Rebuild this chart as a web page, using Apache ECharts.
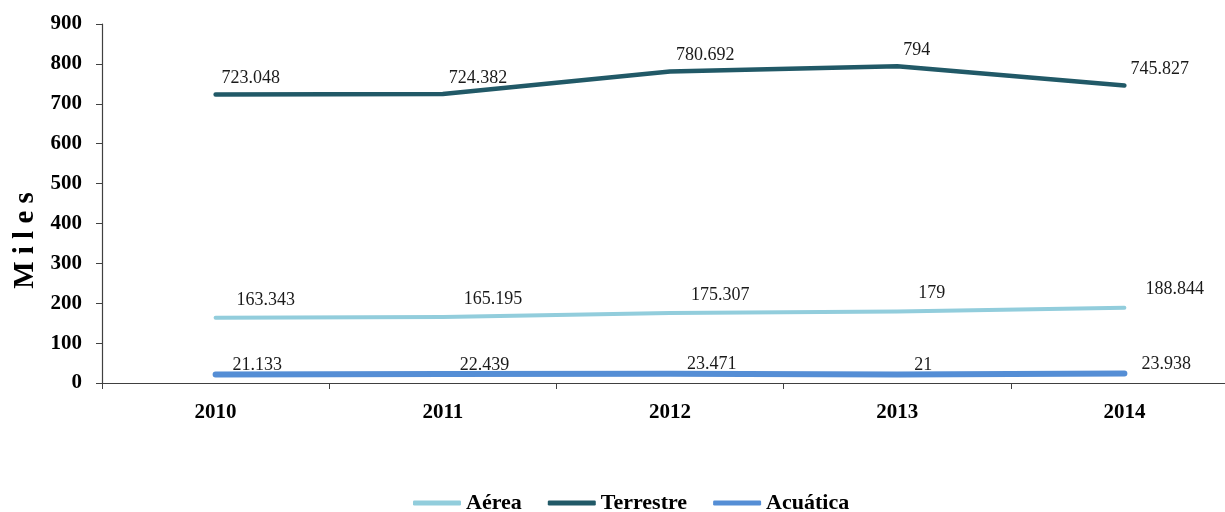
<!DOCTYPE html>
<html>
<head>
<meta charset="utf-8">
<script src="https://cdn.jsdelivr.net/npm/echarts@6/dist/echarts.min.js"></script>
<style>
html,body{margin:0;padding:0;background:#fff;}
#chart{width:1225px;height:512px;}
</style>
</head>
<body>
<div id="chart"></div>
<script>
const years = ['2010', '2011', '2012', '2013', '2014'];
const aerea = [163.343, 165.195, 175.307, 179, 188.844];
const terrestre = [723.048, 724.382, 780.692, 794, 745.827];
const acuatica = [21.133, 22.439, 23.471, 21, 23.938];
const seriesNames = ['Aérea', 'Terrestre', 'Acuática'];
const yAxisName = 'M i l e s';

const serif = '"Liberation Serif", "Times New Roman", serif';
const chart = echarts.init(document.getElementById('chart'));

function lineSeries(name, data, color, width, offset) {
  return {
    name: name,
    type: 'line',
    data: data,
    symbol: 'circle',
    symbolSize: 0,
    showSymbol: true,
    lineStyle: { color: color, width: width, cap: 'round', join: 'round' },
    itemStyle: { color: color },
    label: {
      show: true,
      position: 'top',
      align: 'left',
      distance: 5,
      offset: offset,
      fontFamily: serif,
      fontSize: 18,
      color: '#1a1a1a'
    },
    emphasis: { disabled: true },
    animation: false
  };
}

chart.setOption({
  animation: false,
  grid: { left: 102, top: 24, bottom: 129, right: -13, containLabel: false, outerBoundsMode: 'none' },
  legend: {
    data: seriesNames,
    top: 487,
    left: 408,
    icon: 'roundRect',
    itemWidth: 48,
    itemHeight: 5,
    itemGap: 26,
    textStyle: { fontFamily: serif, fontSize: 22, fontWeight: 'bold', color: '#000' }
  },
  xAxis: {
    type: 'category',
    data: years,
    boundaryGap: true,
    axisLine: { lineStyle: { color: '#404040', width: 1.2 } },
    axisTick: { show: true, length: 6, lineStyle: { color: '#404040' } },
    axisLabel: { fontFamily: serif, fontSize: 21, fontWeight: 'bold', color: '#000', margin: 19 },
    splitLine: { show: false }
  },
  yAxis: {
    type: 'value',
    min: 0,
    max: 900,
    interval: 100,
    name: yAxisName,
    nameLocation: 'middle',
    nameRotate: 90,
    nameGap: 62,
    nameTextStyle: { fontFamily: serif, fontSize: 29, fontWeight: 'bold', color: '#000', padding: [0, 74, 0, 0] },
    axisLine: { show: true, lineStyle: { color: '#404040', width: 1.2 } },
    axisTick: { show: true, length: 6, lineStyle: { color: '#404040' } },
    axisLabel: { fontFamily: serif, fontSize: 21, fontWeight: 'bold', color: '#000', margin: 20 },
    splitLine: { show: false }
  },
  series: [
    lineSeries(seriesNames[0], aerea, '#92CDDC', 4, [21, -4]),
    lineSeries(seriesNames[1], terrestre, '#215967', 4.5, [6, -2]),
    lineSeries(seriesNames[2], acuatica, '#558ED5', 6, [17, 5])
  ]
});
</script>
</body>
</html>
